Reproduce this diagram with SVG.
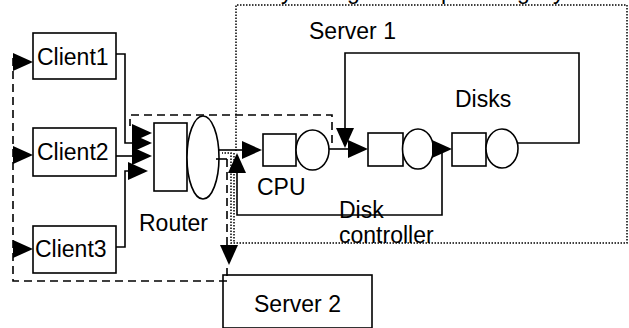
<svg xmlns="http://www.w3.org/2000/svg" xmlns:xlink="http://www.w3.org/1999/xlink" width="629" height="328" viewBox="0 0 629 328">
<style>
.b{fill:#fff;stroke:#000;stroke-width:1.6}
.ln{fill:none;stroke:#000;stroke-width:1.6}
.da{fill:none;stroke:#000;stroke-width:1.6;stroke-dasharray:8 5}
.dt{fill:none;stroke:#000;stroke-width:1.5;stroke-dasharray:1.5 1.5}
.t{font-family:"Liberation Sans",Arial,sans-serif;font-size:23px;fill:#000}
</style>
<defs>
<path id="ah" d="M0,0 L-20,-9 L-20,9 Z" fill="#000"/>
</defs>
<rect width="629" height="328" fill="#fff"/>
<text class="t" x="281 347 441 517 553" y="-1">ygpgy</text>
<g id="server1">
<path class="dt" d="M236,151 V5 H627 V243 H231 V153 H222"/>
<path class="dt" d="M234,153 V243"/>
<text class="t" x="309" y="39">Server 1</text>
</g>
<g id="server2">
<rect class="b" x="223" y="275" width="149" height="53"/>
<text class="t" x="254" y="312">Server 2</text>
</g>
<g id="client1">
<rect class="b" x="33" y="33" width="83" height="46"/>
<text class="t" x="37" y="65">Client1</text>
</g>
<g id="client2">
<rect class="b" x="33" y="128" width="83" height="48"/>
<text class="t" x="37" y="160">Client2</text>
</g>
<g id="client3">
<rect class="b" x="33" y="226" width="83" height="47"/>
<text class="t" x="35" y="257">Client3</text>
</g>
<g id="router">
<rect class="b" x="154" y="123" width="33" height="68"/>
<ellipse class="b" cx="203" cy="157.5" rx="16" ry="41.5"/>
<text class="t" x="139" y="231">Router</text>
</g>
<g id="cpu">
<rect class="b" x="263" y="134" width="33" height="32"/>
<ellipse class="b" cx="312.5" cy="150" rx="16.5" ry="20"/>
<text class="t" x="257" y="195">CPU</text>
</g>
<g id="disk-controller">
<rect class="b" x="368" y="133" width="35" height="33"/>
<ellipse class="b" cx="418" cy="149" rx="15.5" ry="20"/>
<text class="t" x="339" y="218">Disk</text>
<text class="t" x="339" y="243">controller</text>
</g>
<g id="disks">
<rect class="b" x="452" y="133" width="34" height="33"/>
<ellipse class="b" cx="502" cy="148.5" rx="16" ry="19.5"/>
<text class="t" x="455" y="107">Disks</text>
</g>
<g id="connectors">
<path class="ln" d="M116,54 H125 V143 H135"/>
<path class="ln" d="M116,156 H135"/>
<path class="ln" d="M116,247 H125 V171 H130"/>
<path class="ln" d="M218,150 H245"/>
<path class="ln" d="M329,149 H350"/>
<path class="ln" d="M518,143 H579 V53 H345 V130"/>
<path class="ln" d="M442,149 V215 H237 V170"/>
<path class="ln" d="M216,159 H227"/>
<path class="da" d="M227,159 V247"/>
<path class="da" d="M332,143 V115 H130 V126"/>
<path class="da" d="M227,268 V281 H13 V58"/>
<use xlink:href="#ah" transform="translate(33,62)"/>
<use xlink:href="#ah" transform="translate(33,155)"/>
<use xlink:href="#ah" transform="translate(33,249)"/>
<use xlink:href="#ah" transform="translate(152,133)"/>
<use xlink:href="#ah" transform="translate(152,143)"/>
<use xlink:href="#ah" transform="translate(152,156)"/>
<use xlink:href="#ah" transform="translate(148,171)"/>
<use xlink:href="#ah" transform="translate(262,150)"/>
<use xlink:href="#ah" transform="translate(237,153) rotate(-90)"/>
<use xlink:href="#ah" transform="translate(229,265) rotate(90)"/>
<use xlink:href="#ah" transform="translate(368,149)"/>
<use xlink:href="#ah" transform="translate(345,148) rotate(90)"/>
<use xlink:href="#ah" transform="translate(452,149)"/>
</g>
</svg>
